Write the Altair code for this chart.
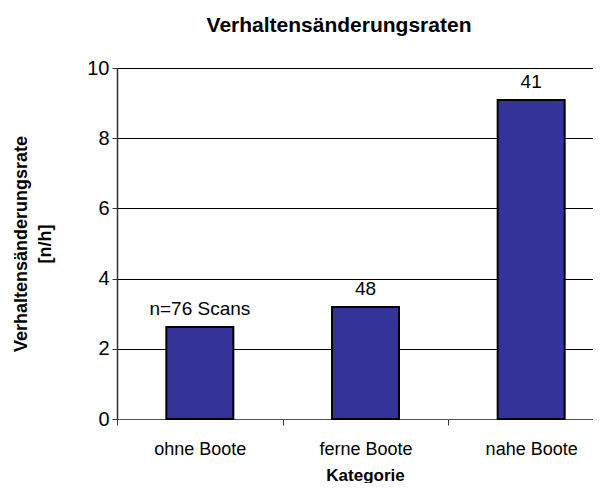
import altair as alt
import pandas as pd

categories = ["ohne Boote", "ferne Boote", "nahe Boote"]
rates = [2.62, 3.19, 9.09]
labels = ["n=76 Scans", "48", "41"]

df = pd.DataFrame({"Kategorie": categories, "Rate": rates, "Label": labels})

FONT = "Liberation Sans"

x = alt.X("Kategorie:N", sort=categories,
          scale=alt.Scale(paddingInner=0, paddingOuter=0, range=[0, 497]),
          axis=alt.Axis(title="Kategorie", labelAngle=0, tickBand="extent",
                        labelFontSize=18, labelFont=FONT, labelColor="black",
                        labelPadding=15, tickSize=6, tickColor="#333", domainColor="#555",
                        titleFontSize=17, titleFont=FONT, titleFontWeight="bold",
                        titleColor="black", titlePadding=9, titleX=248))
y = alt.Y("Rate:Q", scale=alt.Scale(domain=[0, 10]),
          axis=alt.Axis(title=["Verhaltensänderungsrate", "[n/h]"], values=[0, 2, 4, 6, 8, 10],
                        labelFontSize=20, labelFont=FONT, labelColor="black", labelPadding=3,
                        tickSize=5, tickColor="#333", domainColor="#333", domainWidth=1.5,
                        gridColor="black", gridWidth=1, gridOpacity=1,
                        titleFontSize=18, titleFont=FONT, titleFontWeight="bold",
                        titleColor="black", titlePadding=32, titleLineHeight=24))

bars = alt.Chart(df).mark_bar(size=67, color="#333399", stroke="black", strokeWidth=2).encode(x=x, y=y)
text = alt.Chart(df).mark_text(baseline="bottom", dy=-8, fontSize=19, font=FONT, color="black").encode(
    x=alt.X("Kategorie:N", sort=categories), y="Rate:Q", text="Label:N")

chart = (bars + text).properties(
    width=476, height=351,
    autosize=alt.AutoSizeParams(type="none"),
    padding={"left": 109, "top": 60, "right": 0, "bottom": 64},
    title=alt.TitleParams("Verhaltensänderungsraten", fontSize=21, font=FONT, fontWeight="bold",
                          color="black", offset=22, anchor="middle", frame="group", dx=-16),
).configure_view(stroke=None)

chart.save("out.html", embed_options={"renderer": "svg", "actions": False})
